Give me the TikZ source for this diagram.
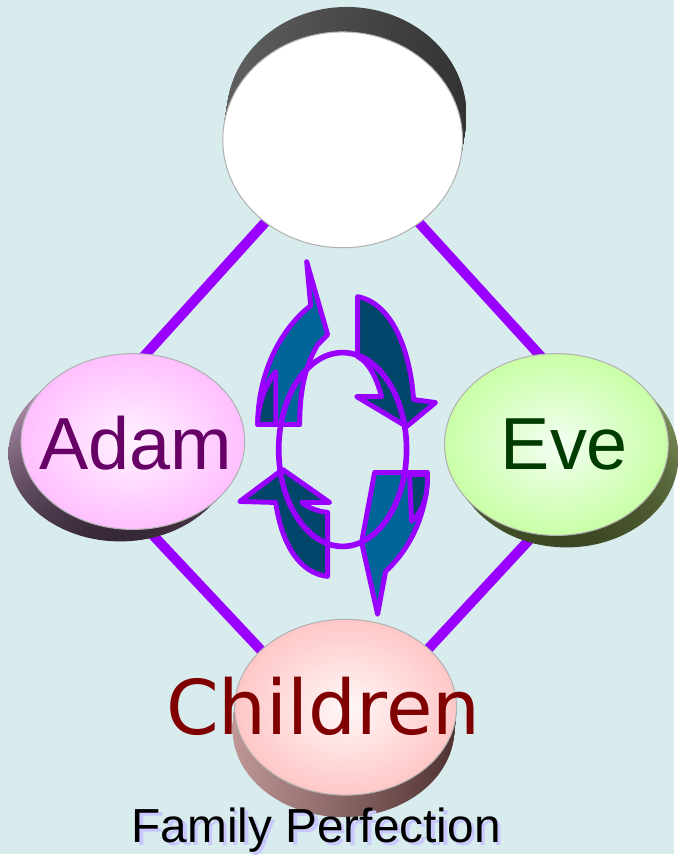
\documentclass[tikz,border=0pt]{standalone}
\usepackage{fontspec}
\setmainfont{Liberation Sans}
\newfontfamily\verafont{DejaVu Sans}
\definecolor{bgblue}{RGB}{216,236,238}
\definecolor{linkviolet}{RGB}{153,0,255}
\definecolor{tealfront}{RGB}{0,102,153}
\definecolor{tealback}{RGB}{0,70,107}
\definecolor{adamtext}{RGB}{102,0,102}
\definecolor{evetext}{RGB}{0,60,0}
\definecolor{kidtext}{RGB}{128,0,0}
\definecolor{titleshadow}{RGB}{200,200,255}
\definecolor{adamside}{RGB}{205,170,205}
\definecolor{adamdeep}{RGB}{55,40,55}
\definecolor{eveside}{RGB}{150,170,110}
\definecolor{evedeep}{RGB}{60,72,35}
\definecolor{kidside}{RGB}{190,150,150}
\definecolor{kiddeep}{RGB}{80,50,50}
\begin{document}
\begin{tikzpicture}[x=0.01cm,y=-0.01cm, line join=round, line cap=round,
  link/.style={linkviolet, line width=2.85pt},
  arrowfront/.style={fill=tealfront, draw=linkviolet, line width=1.4pt},
  arrowback/.style={fill=tealback, draw=linkviolet, line width=1.4pt},
  rim/.style={draw=gray!60, line width=0.3pt},
  disclabel/.style={anchor=base, inner sep=0pt, font=\fontsize{21}{25}\selectfont}]
\fill[bgblue] (0,0) rectangle (675,855);
% corners of the diamond
\coordinate (apexT) at (342,138);
\coordinate (apexL) at (66,443);
\coordinate (apexB) at (345,740);
\coordinate (apexR) at (620,443);
\draw[link] (apexT)--(apexL)--(apexB)--(apexR)--cycle;
% top disc
\foreach \k in {25,...,1}
  \shade[left color=gray!75!black, middle color=black!92, right color=gray!40!black] ({343+0.16*\k},{140-\k}) ellipse (120 and 108);
\fill[white] (343,140) ellipse (120 and 108);
\draw[rim] (343,140) ellipse (120 and 108);
% Adam
\foreach \k in {12,...,1}
  \shade[top color=adamside, bottom color=adamdeep] ({133-1.05*\k},{442+\k}) ellipse (112 and 88);
\shade[inner color=magenta!5, outer color=magenta!25, rim] (133,442) ellipse (112 and 88);
% Eve
\foreach \k in {12,...,1}
  \shade[top color=eveside, bottom color=evedeep] ({557+0.85*\k},{445+\k}) ellipse (112 and 91);
\shade[inner color=green!5!white, outer color=green!60!yellow!35, rim] (557,445) ellipse (112 and 91);
% Children
\foreach \k in {22,...,1}
  \shade[left color=kidside, right color=kiddeep] ({346-0.1*\k},{708+\k}) ellipse (111 and 88);
\shade[inner color=red!3!white, outer color=red!22, rim] (346,708) ellipse (111 and 88);
% circular arrows
\draw[arrowback] (328,577) -- (328,513) .. controls (318,512) and (308,508) .. (302,503)
  -- (330,503) -- (283,470) -- (240,502) -- (276,503) .. controls (282,545) and (300,574) .. cycle;
\draw[arrowfront] (258,425) -- (300,425) .. controls (300,390) and (306,365) .. (318,345)
  -- (328,335) -- (307,262) -- (311,306) .. controls (280,330) and (258,375) .. cycle;
\draw[arrowback] (258,425) -- (276,425) -- (276,372) .. controls (266,385) and (258,405) .. cycle;
\draw[arrowback] (358,297) -- (358,357) .. controls (368,362) and (376,375) .. (382,397)
  -- (357,397) -- (407,427) -- (436,403) -- (414,400) .. controls (410,345) and (390,303) .. cycle;
\draw[arrowfront] (375,473) -- (428,473) .. controls (428,515) and (410,550) .. (386,572)
  -- (378,615) -- (362,543) -- cycle;
\draw[arrowback] (410,475) -- (428,475) .. controls (428,495) and (425,510) .. (412,522) -- cycle;
\draw[linkviolet, line width=1.6pt] (343,450) ellipse (64 and 97);
% labels
\node[disclabel, text=adamtext] (adam) at (136,470) {Adam};
\node[disclabel, text=evetext] (eve) at (565,470) {Eve};
\node[disclabel, text=kidtext, font=\verafont\fontsize{21.5}{26}\selectfont] (children) at (323.5,735) {Children};
\node[anchor=base, inner sep=0pt, text=titleshadow, font=\fontsize{13.6}{16}\selectfont] (titleshade) at (320,846) {Family Perfection};
\node[anchor=base, inner sep=0pt, font=\fontsize{13.6}{16}\selectfont] (title) at (316.5,843) {Family Perfection};
\end{tikzpicture}
\end{document}
